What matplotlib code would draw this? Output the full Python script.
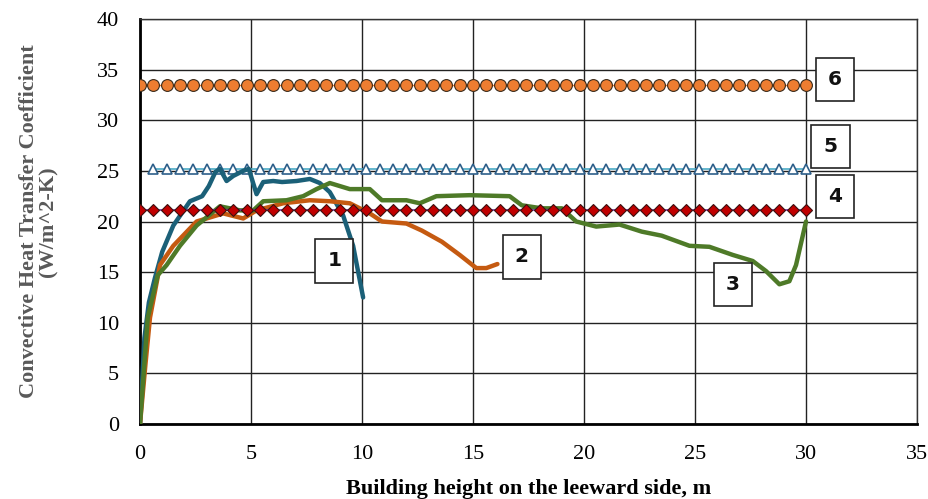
import numpy as np
import matplotlib.pyplot as plt

# simulated convective heat transfer coefficient along the leeward side
x1 = [0, 0.2, 0.4, 0.67, 1.0, 1.5, 2.25, 2.8, 3.1, 3.4, 3.6, 3.9, 4.2, 4.65, 4.9,
      5.25, 5.55, 6.0, 6.4, 7.05, 7.65, 8.1, 8.55, 9.15, 9.6, 10.05]
h1 = [0, 8.5, 12.0, 14.4, 17.0, 19.6, 22.0, 22.5, 23.5, 24.9, 25.2, 24.0, 24.5, 25.0, 25.2,
      22.7, 23.9, 24.0, 23.9, 24.0, 24.2, 23.8, 22.9, 20.6, 17.6, 12.5]

x2 = [0, 0.25, 0.45, 0.9, 1.5, 2.55, 3.75, 4.65, 5.25, 6.45, 7.65, 8.55, 9.45, 10.35,
      10.9, 12.0, 12.7, 13.6, 14.4, 15.15, 15.6, 16.1]
h2 = [0, 6.0, 10.5, 15.7, 17.6, 20.0, 20.8, 20.3, 21.1, 21.8, 22.1, 22.0, 21.8, 20.8,
      20.0, 19.8, 19.1, 18.0, 16.7, 15.4, 15.4, 15.8]

x3 = [0, 0.2, 0.35, 0.8, 1.2, 1.8, 2.55, 3.6, 4.5, 5.1, 5.55, 6.6, 7.35, 7.95, 8.55,
      9.45, 10.35, 10.9, 12.0, 12.6, 13.35, 14.85, 16.65, 17.2, 18.1, 19.0, 19.65,
      20.55, 21.6, 22.6, 23.5, 24.75, 25.65, 26.7, 27.6, 28.2, 28.8, 29.25, 29.55, 30.0]
h3 = [0, 6.0, 10.5, 14.7, 15.7, 17.6, 19.6, 21.5, 21.1, 21.1, 22.0, 22.1, 22.5, 23.2, 23.8,
      23.2, 23.2, 22.1, 22.1, 21.8, 22.5, 22.6, 22.5, 21.6, 21.3, 21.3, 20.0,
      19.5, 19.7, 19.0, 18.6, 17.6, 17.5, 16.7, 16.1, 15.1, 13.8, 14.1, 15.7, 20.0]

# empirical correlations (constant along the height)
x_corr = np.linspace(0, 30, 51)
x_corr5 = x_corr[1:]
h4 = [21.1] * len(x_corr)
h5 = [25.2] * len(x_corr5)
h6 = [33.5] * len(x_corr)

labels = ['1', '2', '3', '4', '5', '6']
label_x = [8.75, 17.2, 26.7, 31.3, 31.1, 31.3]
label_y = [16.1, 16.5, 13.8, 22.5, 27.4, 34.0]

fig = plt.figure(figsize=(9.29, 4.99), dpi=100)
ax = fig.add_axes([0.1507, 0.1503, 0.8364, 0.8116])

ax.plot(x_corr, h6, color='#ed7d31', marker='o', ms=8.5, mec='#3a2a1a', mew=0.8, lw=1, zorder=3)
ax.plot(x_corr5, h5, color='#4bacc6', marker='^', ms=6.5, mfc='white', mec='#2e5f8a', mew=1.2, lw=1.2, zorder=2)

ax.plot(x1, h1, color='#1b6078', lw=3.2, solid_capstyle='round', solid_joinstyle='round', zorder=4)
ax.plot(x2, h2, color='#c55a11', lw=3.2, solid_capstyle='round', solid_joinstyle='round', zorder=4)
ax.plot(x3, h3, color='#4e7a28', lw=3.2, solid_capstyle='round', solid_joinstyle='round', zorder=4)

ax.plot(x_corr, h4, color='#7030a0', marker='D', ms=6, mfc='#c00000', mec='#3a1010', mew=0.8, lw=1.2, zorder=5)

for s, lx, ly in zip(labels, label_x, label_y):
    ax.text(lx, ly, s, ha='center', va='center', fontsize=14.5, fontweight='bold',
            family='DejaVu Sans', color='#111111', zorder=6,
            bbox=dict(boxstyle='square,pad=0.6', fc='white', ec='#222222', lw=1.2))

ax.set_xlim(0, 35)
ax.set_ylim(0, 40)
ax.set_xticks(np.arange(0, 36, 5))
ax.set_yticks(np.arange(0, 41, 5))
ax.grid(True, color='#222222', lw=1)
ax.set_axisbelow(True)
ax.tick_params(length=0, labelsize=16)
ax.tick_params(axis='x', pad=15)
ax.tick_params(axis='y', pad=15)
for lab in ax.get_xticklabels() + ax.get_yticklabels():
    lab.set_family('Liberation Serif')
for sp in ax.spines.values():
    sp.set_color('#333333')
    sp.set_linewidth(1)
ax.spines['left'].set_linewidth(2)
ax.spines['left'].set_color('black')
ax.spines['bottom'].set_linewidth(2)
ax.spines['bottom'].set_color('black')

ax.set_xlabel('Building height on the leeward side, m', family='Liberation Serif',
              fontweight='bold', fontsize=16, color='black')
ax.xaxis.set_label_coords(0.5, -0.135)
ax.set_ylabel('Convective Heat Transfer Coefficient\n(W/m^2-K)', family='Liberation Serif',
              fontweight='bold', fontsize=16, color='#595959', linespacing=0.95)
ax.yaxis.set_label_coords(-0.105, 0.5)

fig.savefig('out.png', dpi=100)
